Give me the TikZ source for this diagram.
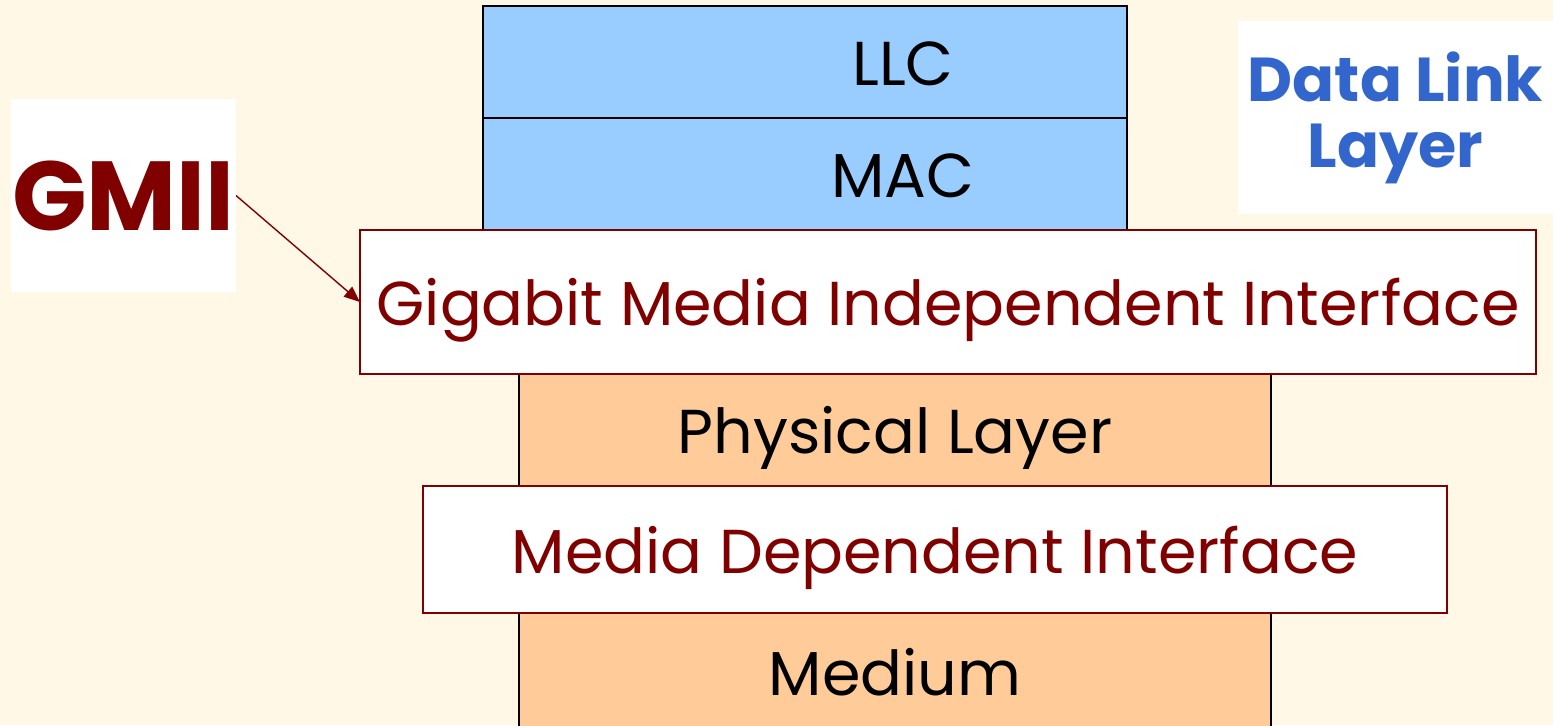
\documentclass[tikz,border=0pt]{standalone}
\usepackage{fontspec}
\setmainfont{Poppins}
\usetikzlibrary{arrows.meta}
\definecolor{paper}{HTML}{FFF8E6}
\definecolor{llcblue}{HTML}{99CCFF}
\definecolor{phyorange}{HTML}{FFCC99}
\definecolor{darkred}{HTML}{800000}
\definecolor{dllblue}{HTML}{3366CC}
\begin{document}
\begin{tikzpicture}[x=0.5pt,y=-0.5pt,
  layerbox/.style={draw=black,line width=0.85pt,inner sep=0pt,outer sep=0pt,text=black},
  upper/.style={layerbox,fill=llcblue,minimum width=322pt,minimum height=56pt},
  lower/.style={layerbox,fill=phyorange,minimum width=376pt},
  iface/.style={draw=darkred,fill=white,line width=0.85pt,inner sep=0pt,outer sep=0pt,text=darkred},
  labelbox/.style={fill=white,inner sep=0pt,outer sep=0pt},
  layertext/.style={font=\fontsize{31}{36}\selectfont,text depth=0pt},
  sublabel/.style={label={[layertext,xshift=49pt,yshift=-1pt]center:#1}},
  link/.style={draw=darkred,line width=0.7pt,-{Triangle[length=8pt,width=6.5pt]}}]
\fill[paper] (0,0) rectangle (1553,725);
\useasboundingbox (0,0) rectangle (1553,725);

% Data link sublayers (their names sit right of centre)
\node[upper,sublabel=LLC] (llc) at (805,62) {};
\node[upper,sublabel=MAC] (mac) at (805,174) {};

% Physical layer and medium
\node[lower,minimum height=56pt,layertext] (phy) at (895,430) {Physical Layer};
\node[lower,minimum height=60pt,layertext] (medium) at (895,672) {Medium};

% Interfaces
\node[iface,minimum width=588pt,minimum height=72pt,layertext] (gmiibox) at (948,302) {Gigabit Media Independent Interface};
\node[iface,minimum width=512pt,minimum height=63.5pt,layertext] (mdi) at (935,549.5) {Media Dependent Interface};

% Side labels
\node[labelbox,minimum width=112.5pt,minimum height=96.5pt,text=darkred,font=\bfseries\fontsize{49}{54}\selectfont] (gmii) at (123.5,195.5) {GMII};
\node[labelbox,minimum width=157.5pt,minimum height=96.5pt,text=dllblue,align=center,font=\bfseries\fontsize{31}{33}\selectfont] (dll) at (1395.5,117.5) {Data Link\\Layer};

\draw[link] (gmii.east) -- (gmiibox.west);
\end{tikzpicture}
\end{document}
